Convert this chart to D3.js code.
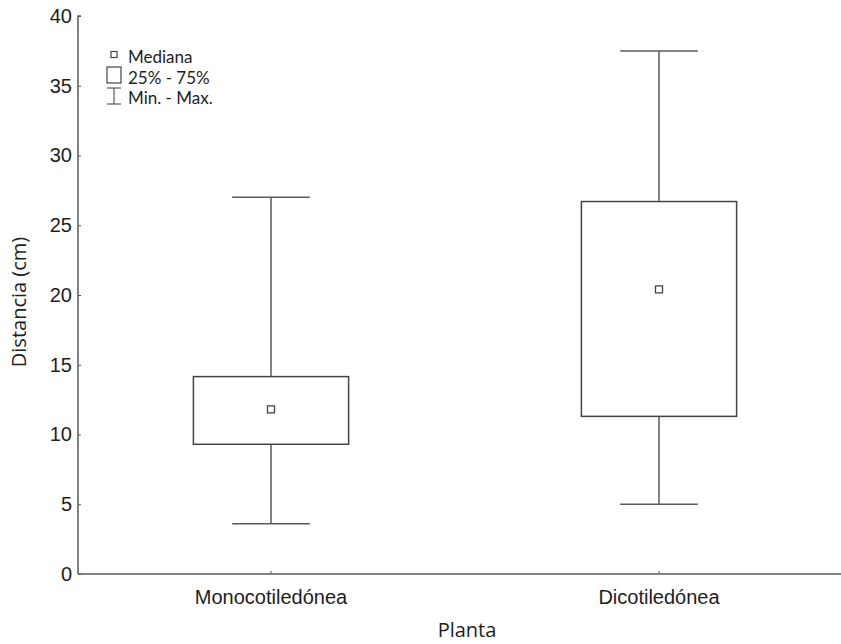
<!DOCTYPE html>
<html>
<head>
<meta charset="utf-8">
<script src="https://cdn.jsdelivr.net/npm/d3@7"></script>
<style>
  body { margin: 0; background: #fff; }
  svg { display: block; font-family: "Open Sans", "Noto Sans", sans-serif; }
  .legend-label { font-family: Lato, "Open Sans", sans-serif; }
</style>
</head>
<body>
<svg id="chart" width="841" height="644"></svg>
<script>
// Box plot data: distance (cm) per plant type
const categories = ["Monocotiledónea", "Dicotiledónea"];
const minValues    = [3.6, 5.0];
const q1Values     = [9.3, 11.3];
const medianValues = [11.8, 20.4];
const q3Values     = [14.15, 26.7];
const maxValues    = [27.0, 37.5];
const yTicks = [0, 5, 10, 15, 20, 25, 30, 35, 40];
const legendLabels = ["Mediana", "25% - 75%", "Min. - Max."];

const svg = d3.select("#chart");
const stroke = "#5a5a5a";
const textColor = "#1e1e1e";
const fontSize = "20px";

const x = d3.scaleBand().domain(categories).range([77, 853]);
const y = d3.scaleLinear().domain([0, 40]).range([574, 16]);

// Y axis (ticks point inward)
const yAxis = svg.append("g").attr("transform", "translate(78,0)")
  .call(d3.axisLeft(y).tickValues(yTicks).tickSize(-3).tickPadding(6).tickFormat(d3.format("d")));
yAxis.select(".domain").attr("stroke", stroke).attr("stroke-width", 1.5)
  .attr("d", `M3,${y(40)}H0V${y(0)}`);
yAxis.selectAll(".tick line").attr("stroke", stroke);
yAxis.selectAll(".tick text").attr("fill", textColor).style("font-size", fontSize);

// X axis
const xAxis = svg.append("g").attr("transform", `translate(0,${y(0)})`)
  .call(d3.axisBottom(x).tickSize(-3).tickPadding(16));
xAxis.select(".domain").attr("stroke", stroke).attr("stroke-width", 1.5)
  .attr("d", `M78,0H841`);
xAxis.selectAll(".tick line").attr("stroke", stroke);
xAxis.selectAll(".tick text").attr("fill", textColor).style("font-size", fontSize);

// Axis titles
svg.append("text").attr("x", 467).attr("y", 637).attr("text-anchor", "middle")
  .attr("fill", textColor).style("font-size", fontSize).text("Planta");
svg.append("text").attr("transform", `translate(26,${y(19.5)}) rotate(-90)`)
  .attr("text-anchor", "middle").attr("fill", textColor).style("font-size", fontSize)
  .text("Distancia (cm)");

// Boxes
const boxW = x.bandwidth() * 0.4;
const capW = boxW * 0.5;
const groups = svg.append("g").selectAll("g").data(categories).join("g")
  .attr("transform", d => `translate(${x(d) + x.bandwidth() / 2},0)`);

groups.each(function(d, i) {
  const g = d3.select(this);
  // whiskers
  g.append("line").attr("x1", 0).attr("x2", 0)
    .attr("y1", y(maxValues[i])).attr("y2", y(q3Values[i]))
    .attr("stroke", stroke).attr("stroke-width", 1.5);
  g.append("line").attr("x1", 0).attr("x2", 0)
    .attr("y1", y(q1Values[i])).attr("y2", y(minValues[i]))
    .attr("stroke", stroke).attr("stroke-width", 1.5);
  g.append("line").attr("x1", -capW / 2).attr("x2", capW / 2)
    .attr("y1", y(maxValues[i])).attr("y2", y(maxValues[i]))
    .attr("stroke", stroke).attr("stroke-width", 1.5);
  g.append("line").attr("x1", -capW / 2).attr("x2", capW / 2)
    .attr("y1", y(minValues[i])).attr("y2", y(minValues[i]))
    .attr("stroke", stroke).attr("stroke-width", 1.5);
  // box
  g.append("rect").attr("x", -boxW / 2).attr("width", boxW)
    .attr("y", y(q3Values[i])).attr("height", y(q1Values[i]) - y(q3Values[i]))
    .attr("fill", "#fff").attr("stroke", "#444").attr("stroke-width", 1.5);
  // median marker
  g.append("rect").attr("x", -3.5).attr("width", 7)
    .attr("y", y(medianValues[i]) - 3.5).attr("height", 7)
    .attr("fill", "#fff").attr("stroke", "#444").attr("stroke-width", 1.3);
});

// Legend
const lg = svg.append("g").attr("transform", "translate(114,0)");
lg.append("rect").attr("x", -3).attr("y", 51.5).attr("width", 6).attr("height", 6)
  .attr("fill", "#fff").attr("stroke", "#444").attr("stroke-width", 1.2);
lg.append("rect").attr("x", -7).attr("y", 67).attr("width", 14).attr("height", 16)
  .attr("fill", "#fff").attr("stroke", "#444").attr("stroke-width", 1.2);
lg.append("line").attr("x1", 0).attr("x2", 0).attr("y1", 88).attr("y2", 104)
  .attr("stroke", stroke).attr("stroke-width", 1.2);
lg.append("line").attr("x1", -7).attr("x2", 7).attr("y1", 88).attr("y2", 88)
  .attr("stroke", stroke).attr("stroke-width", 1.2);
lg.append("line").attr("x1", -7).attr("x2", 7).attr("y1", 104).attr("y2", 104)
  .attr("stroke", stroke).attr("stroke-width", 1.2);
lg.selectAll("text.legend-label").data(legendLabels).join("text").attr("class", "legend-label")
  .attr("x", 14).attr("y", (d, i) => 63 + i * 20.5)
  .attr("fill", textColor).style("font-size", "17px").text(d => d);
</script>
</body>
</html>
